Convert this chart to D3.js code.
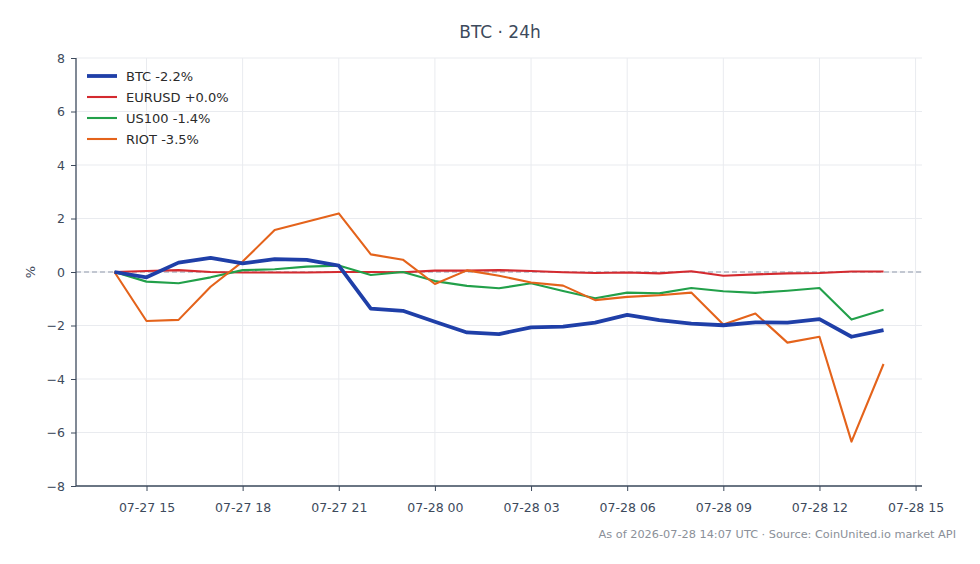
<!DOCTYPE html>
<html>
<head>
<meta charset="utf-8">
<script src="https://cdn.jsdelivr.net/npm/d3@7"></script>
<style>
  body { margin: 0; background: #fff; }
  text { font-family: "DejaVu Sans", sans-serif; }
</style>
</head>
<body>
<div id="chart"></div>
<script>
// Data: hourly % change, 07-27 14:00 .. 07-28 14:00 UTC
var startTime = "2026-07-27T14:00:00Z";
var btc = [0.0, -0.2, 0.35, 0.53, 0.32, 0.48, 0.45, 0.24, -1.37, -1.45, -1.86, -2.26, -2.32, -2.07, -2.04, -1.89, -1.6, -1.8, -1.93, -1.99, -1.88, -1.89, -1.76, -2.42, -2.17];
var eurusd = [0.0, 0.04, 0.07, 0.0, -0.02, -0.02, -0.02, 0.0, 0.0, -0.01, 0.05, 0.05, 0.07, 0.04, -0.01, -0.04, -0.02, -0.05, 0.03, -0.14, -0.09, -0.05, -0.04, 0.02, 0.02];
var us100 = [0.0, -0.36, -0.42, -0.2, 0.07, 0.1, 0.2, 0.24, -0.11, 0.0, -0.34, -0.52, -0.61, -0.42, -0.71, -0.98, -0.77, -0.8, -0.6, -0.72, -0.78, -0.7, -0.6, -1.78, -1.41];
var riot = [0.0, -1.83, -1.79, -0.55, 0.39, 1.57, 1.88, 2.19, 0.66, 0.46, -0.45, 0.06, -0.14, -0.39, -0.51, -1.05, -0.93, -0.87, -0.77, -1.96, -1.55, -2.64, -2.42, -6.34, -3.44];

var seriesNames = ["BTC -2.2%", "EURUSD +0.0%", "US100 -1.4%", "RIOT -3.5%"];
var seriesColors = ["#1f3fa8", "#d42a2f", "#22a04a", "#e4631b"];
var seriesWidths = [3.8, 2.1, 2.1, 2.1];
var yTicks = [-8, -6, -4, -2, 0, 2, 4, 6, 8];

var width = 980, height = 564;
var plotLeft = 76, plotRight = 922, plotTop = 58, plotBottom = 486;

var t0 = new Date(startTime);
var hour = 3600 * 1000;
function times(arr) {
  return arr.map(function(v, i) { return { t: new Date(t0.getTime() + i * hour), v: v }; });
}
var allSeries = [btc, eurusd, us100, riot].map(times);

var svg = d3.select("#chart").append("svg")
  .attr("width", width)
  .attr("height", height);

// pad time domain 5% on each side
var tMin = t0.getTime(), tMax = t0.getTime() + 24 * hour;
var pad = (tMax - tMin) * 0.05;
var xScale = d3.scaleUtc()
  .domain([new Date(tMin - pad), new Date(tMax + pad)])
  .range([plotLeft, plotRight]);
var yScale = d3.scaleLinear()
  .domain([-8, 8])
  .range([plotBottom, plotTop]);

var xTicks = d3.utcHour.every(3).range(new Date(tMin - pad), new Date(tMax + pad + 1));
var fmt = d3.utcFormat("%m-%d %H");

// grid
svg.append("g").selectAll("line").data(xTicks).enter().append("line")
  .attr("x1", function(d) { return xScale(d); })
  .attr("x2", function(d) { return xScale(d); })
  .attr("y1", plotTop).attr("y2", plotBottom)
  .attr("stroke", "#e9ebef").attr("stroke-width", 1);
svg.append("g").selectAll("line").data(yTicks).enter().append("line")
  .attr("x1", plotLeft).attr("x2", plotRight)
  .attr("y1", function(d) { return yScale(d); })
  .attr("y2", function(d) { return yScale(d); })
  .attr("stroke", "#e9ebef").attr("stroke-width", 1);

// zero line
svg.append("line")
  .attr("x1", plotLeft).attr("x2", plotRight)
  .attr("y1", yScale(0)).attr("y2", yScale(0))
  .attr("stroke", "#8f99ab").attr("stroke-width", 1.2)
  .attr("stroke-dasharray", "5,3");

// axes
var xAxis = d3.axisBottom(xScale).tickValues(xTicks).tickFormat(fmt).tickSize(5).tickPadding(12);
var yAxis = d3.axisLeft(yScale).tickValues(yTicks)
  .tickFormat(function(d) { return d < 0 ? "\u2212" + Math.abs(d) : d; })
  .tickSize(5).tickPadding(6);

var gx = svg.append("g")
  .attr("transform", "translate(0," + plotBottom + ")")
  .call(xAxis);
var gy = svg.append("g")
  .attr("transform", "translate(" + plotLeft + ",0)")
  .call(yAxis);
[gx, gy].forEach(function(g) {
  g.select(".domain").attr("stroke", "#3d4a5c").attr("stroke-width", 1.3);
  g.selectAll(".tick line").attr("stroke", "#3d4a5c");
  g.selectAll(".tick text")
    .attr("fill", "#3d4a5c")
    .style("font-family", "DejaVu Sans")
    .style("font-size", "12.5px");
});
gx.select(".domain").attr("d", "M" + plotLeft + ",0H" + plotRight);
gy.select(".domain").attr("d", "M0," + plotTop + "V" + plotBottom);

// lines
var line = d3.line()
  .x(function(d) { return xScale(d.t); })
  .y(function(d) { return yScale(d.v); });

// draw thin series first, BTC on top
[1, 2, 3, 0].forEach(function(k) {
  svg.append("path")
    .datum(allSeries[k])
    .attr("fill", "none")
    .attr("stroke", seriesColors[k])
    .attr("stroke-width", seriesWidths[k])
    .attr("stroke-linejoin", "round")
    .attr("d", line);
});

// legend
var legend = svg.append("g").attr("transform", "translate(87,76)");
seriesNames.forEach(function(name, i) {
  var row = legend.append("g").attr("transform", "translate(0," + (i * 21) + ")");
  row.append("line")
    .attr("x1", 0).attr("x2", 30).attr("y1", 0).attr("y2", 0)
    .attr("stroke", seriesColors[i])
    .attr("stroke-width", seriesWidths[i]);
  row.append("text")
    .attr("x", 39).attr("y", 0).attr("dy", "0.35em")
    .attr("fill", "#2b2b2b")
    .style("font-size", "13px")
    .text(name);
});

// title
svg.append("text")
  .attr("x", 500).attr("y", 38)
  .attr("text-anchor", "middle")
  .attr("fill", "#3d4a5c")
  .style("font-size", "17px")
  .text("BTC \u00b7 24h");

// y label
svg.append("text")
  .attr("transform", "translate(35," + yScale(0) + ") rotate(-90)")
  .attr("text-anchor", "middle")
  .attr("fill", "#3d4a5c")
  .style("font-size", "13px")
  .text("%");

// footer
svg.append("text")
  .attr("x", 956).attr("y", 538)
  .attr("text-anchor", "end")
  .attr("fill", "#8a8f98")
  .style("font-size", "11.3px")
  .text("As of 2026-07-28 14:07 UTC \u00b7 Source: CoinUnited.io market API");
</script>
</body>
</html>
